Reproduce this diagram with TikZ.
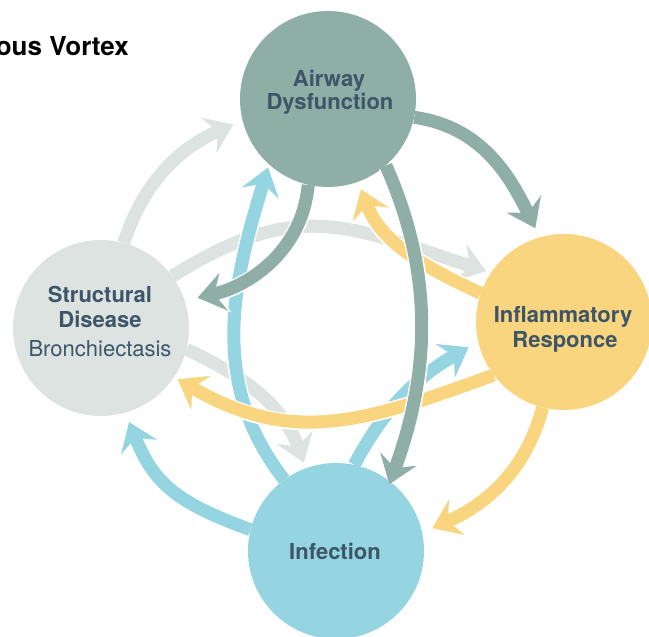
\documentclass[tikz,border=0pt]{standalone}
\usepackage{fontspec}
\setmainfont{TeX Gyre Heros}
\usetikzlibrary{arrows.meta}

\definecolor{airway}{HTML}{8FAFA6}
\definecolor{inflam}{HTML}{F8D57E}
\definecolor{struct}{HTML}{DDE3E1}
\definecolor{infect}{HTML}{94D5E1}
\definecolor{labeltext}{HTML}{3E5569}

\tikzset{
  hub/.style={circle, minimum size=176bp, inner sep=0pt, draw=none, fill=#1},
  lbl/.style={anchor=base, inner sep=0pt, text=labeltext,
    font=\fontsize{22bp}{26bp}\selectfont\bfseries},
  lblreg/.style={lbl, font=\fontsize{22bp}{26bp}\selectfont},
  flow/.style={draw=#1, line width=13bp,
    -{Stealth[length=27bp, width=39bp, inset=10bp, line width=0pt]},
    preaction={draw=white, line width=16bp, shorten <=1bp,
      -{Stealth[length=30bp, width=44bp, inset=11bp, line width=0pt]}}},
}

\begin{document}
\begin{tikzpicture}[x=1bp, y=1bp]
\useasboundingbox (0,0) rectangle (649,637);

% title, running off the left edge
\node[anchor=base east, inner sep=0pt, font=\fontsize{26bp}{30bp}\selectfont\bfseries]
  (title) at (129,581) {ous Vortex};

% the four states
\node[hub=airway] (A) at (328,538) {};
\node[hub=inflam] (I) at (564,315) {};
\node[hub=struct] (S) at (101,309) {};
\node[hub=infect] (F) at (336,86) {};

\node[lbl] (a1) at (329,550) {Airway};
\node[lbl] (a2) at (330,527) {Dysfunction};
\node[lbl] (i1) at (563,314) {Inflammatory};
\node[lbl] (i2) at (565,289) {Responce};
\node[lbl] (s1) at (100,334) {Structural};
\node[lbl] (s2) at (100,309) {Disease};
\node[lblreg] (s3) at (100,280) {Bronchiectasis};
\node[lbl] (f1) at (335,77) {Infection};

% structural disease drives the others
\draw[flow=struct, shorten >=10bp] (S.75) to[out=72, in=204] (A.194);
\draw[flow=struct, shorten >=5bp] (S.36) to[out=32, in=162, looseness=1.2] (I.146);
\draw[flow=struct, shorten >=6bp] (S.-14) to[out=-25, in=110] (F.110.6);

% infection
\draw[flow=infect, shorten >=3bp] (F.126) to[out=128, in=253] (A.228);
\draw[flow=infect, shorten >=10bp] (F.166) to[out=160, in=292, looseness=1.15] (S.-74);
\draw[flow=infect, shorten >=11bp] (F.78) to[out=62, in=210] (I.193.5);

% inflammatory response
\draw[flow=inflam, shorten >=8bp] (I.161) to[out=155, in=291] (A.-70.6);
\draw[flow=inflam, shorten >=4bp] (I.217) to[out=200, in=330, looseness=1.1] (S.-34);
\draw[flow=inflam, shorten >=11bp] (I.256) to[out=255, in=24] (F.12);

% airway dysfunction
\draw[flow=airway, shorten >=10bp] (A.-12) to[out=-8, in=116] (I.106);
\draw[flow=airway, shorten >=13bp] (A.257) to[out=265, in=13] (S.18);
\draw[flow=airway, shorten >=-3bp] (A.-49) to[out=-66, in=70, looseness=0.95] (F.52);
\end{tikzpicture}
\end{document}
